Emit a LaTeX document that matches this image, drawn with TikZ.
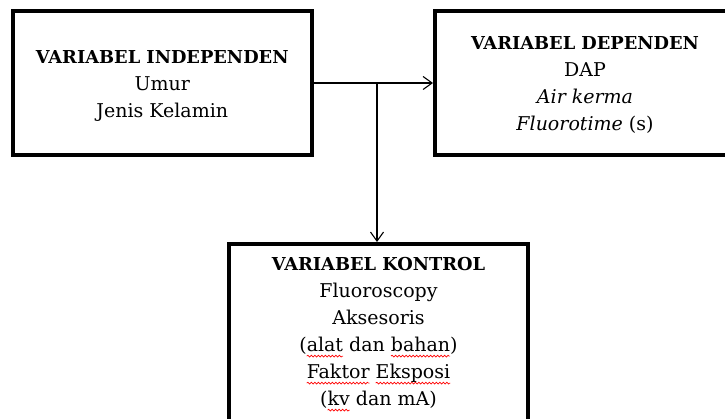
\documentclass[tikz,border=0pt]{standalone}
\usepackage{fontspec}
\setmainfont{DejaVu Serif}
\usetikzlibrary{arrows.meta,decorations.pathmorphing}
\newsavebox\sqbox
\newcommand\sq[1]{\sbox\sqbox{#1}\rlap{\usebox\sqbox}\begin{tikzpicture}[baseline=0pt,x=1pt,y=1pt]
  \useasboundingbox (0,0) rectangle (\wd\sqbox,0);
  \draw[red, line width=0.7pt, decorate, decoration={snake,amplitude=0.9pt,segment length=3.5pt}] (0,-4.5) -- (\wd\sqbox,-4.5);
  \end{tikzpicture}}
\newcommand\hd[1]{{\fontsize{17.8}{27}\selectfont\bfseries #1}}
\begin{document}
\begin{tikzpicture}[x=1pt,y=-1pt,
  box/.style={draw, line width=4pt, inner sep=0pt},
  lbl/.style={align=center, inner sep=0pt, font=\fontsize{19}{27}\selectfont},
  conn/.style={line width=1.1pt, -{Straight Barb[length=9pt,width=13pt]}}]
\useasboundingbox (0,0) rectangle (725,419);
\clip (0,0) rectangle (725,419);
\node[box, minimum width=299.5pt, minimum height=144pt] (indep) at (162.25,83) {};
\node[box, minimum width=300pt, minimum height=144pt] (dep) at (585,83) {};
\node[box, minimum width=299pt, minimum height=178pt] (kon) at (378.5,333) {};
\node[lbl] (indept) at ([yshift=-3pt]indep.center)
  {\hd{VARIABEL INDEPENDEN}\\Umur\\Jenis Kelamin};
\node[lbl] (dept) at ([yshift=-2pt]dep.center)
  {\hd{VARIABEL DEPENDEN}\\DAP\\\textit{Air kerma}\\\textit{Fluorotime} (s)};
\node[lbl] (kont) at (kon.center)
  {\hd{VARIABEL KONTROL}\\Fluoroscopy\\Aksesoris\\(\sq{alat} dan \sq{bahan})\\\sq{Faktor} \sq{Eksposi}\\(\sq{kv} dan mA)};
\coordinate (j) at (377,83);
\draw[conn] (indep.east) -- (dep.west);
\draw[conn] (j) -- (j |- kon.north);
\end{tikzpicture}
\end{document}
